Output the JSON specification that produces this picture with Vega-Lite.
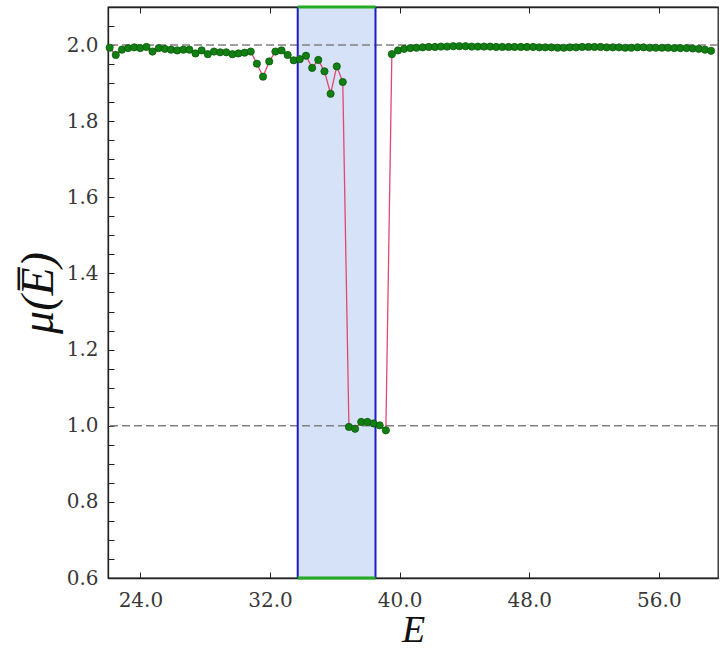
{
  "$schema": "https://vega.github.io/schema/vega-lite/v6.json",
  "width": 610,
  "height": 571,
  "autosize": {"type": "none"},
  "padding": {"left": 108, "top": 7, "right": 2, "bottom": 74},
  "background": "white",
  "config": {
    "view": {"stroke": "#222222", "strokeWidth": 1.3},
    "font": "DejaVu Serif",
    "axis": {
      "grid": false,
      "domainColor": "#222222",
      "domainWidth": 1.3,
      "tickColor": "#222222",
      "tickWidth": 1,
      "tickSize": -6,
      "labelFont": "DejaVu Serif",
      "labelFontSize": 20,
      "labelFontWeight": "normal",
      "labelColor": "#383838",
      "titleFont": "Liberation Serif",
      "titleFontStyle": "italic",
      "titleFontWeight": "normal",
      "titleFontSize": 38,
      "titleColor": "#111111"
    }
  },
  "datasets": {
    "band": [{"Elo": 33.71, "Ehi": 38.51}],
    "refs": [{"level": 2.0}, {"level": 1.0}],
    "mu": [
      {"E": 22.10, "mu": 1.993}, {"E": 22.48, "mu": 1.974}, {"E": 22.86, "mu": 1.988}, {"E": 23.24, "mu": 1.992},
      {"E": 23.62, "mu": 1.994}, {"E": 23.99, "mu": 1.992}, {"E": 24.37, "mu": 1.995}, {"E": 24.75, "mu": 1.983},
      {"E": 25.13, "mu": 1.992}, {"E": 25.51, "mu": 1.990}, {"E": 25.89, "mu": 1.988}, {"E": 26.27, "mu": 1.986},
      {"E": 26.65, "mu": 1.988}, {"E": 27.02, "mu": 1.988}, {"E": 27.40, "mu": 1.978}, {"E": 27.78, "mu": 1.986},
      {"E": 28.16, "mu": 1.976}, {"E": 28.54, "mu": 1.983}, {"E": 28.92, "mu": 1.981}, {"E": 29.30, "mu": 1.981},
      {"E": 29.68, "mu": 1.976}, {"E": 30.05, "mu": 1.978}, {"E": 30.43, "mu": 1.980}, {"E": 30.81, "mu": 1.983},
      {"E": 31.19, "mu": 1.951}, {"E": 31.57, "mu": 1.917}, {"E": 31.95, "mu": 1.957}, {"E": 32.33, "mu": 1.983},
      {"E": 32.71, "mu": 1.986}, {"E": 33.09, "mu": 1.974}, {"E": 33.46, "mu": 1.960}, {"E": 33.84, "mu": 1.963},
      {"E": 34.22, "mu": 1.972}, {"E": 34.60, "mu": 1.940}, {"E": 34.98, "mu": 1.961}, {"E": 35.36, "mu": 1.931},
      {"E": 35.74, "mu": 1.872}, {"E": 36.12, "mu": 1.944}, {"E": 36.49, "mu": 1.903}, {"E": 36.87, "mu": 0.997},
      {"E": 37.25, "mu": 0.992}, {"E": 37.63, "mu": 1.010}, {"E": 38.01, "mu": 1.010}, {"E": 38.39, "mu": 1.006},
      {"E": 38.77, "mu": 1.001}, {"E": 39.15, "mu": 0.988}, {"E": 39.52, "mu": 1.976}, {"E": 39.90, "mu": 1.986},
      {"E": 40.28, "mu": 1.990}, {"E": 40.66, "mu": 1.992}, {"E": 41.04, "mu": 1.993}, {"E": 41.42, "mu": 1.994},
      {"E": 41.80, "mu": 1.995}, {"E": 42.18, "mu": 1.995}, {"E": 42.55, "mu": 1.996}, {"E": 42.93, "mu": 1.996},
      {"E": 43.31, "mu": 1.997}, {"E": 43.69, "mu": 1.997}, {"E": 44.07, "mu": 1.997}, {"E": 44.45, "mu": 1.996},
      {"E": 44.83, "mu": 1.996}, {"E": 45.21, "mu": 1.996}, {"E": 45.59, "mu": 1.996}, {"E": 45.96, "mu": 1.995},
      {"E": 46.34, "mu": 1.995}, {"E": 46.72, "mu": 1.995}, {"E": 47.10, "mu": 1.995}, {"E": 47.48, "mu": 1.995},
      {"E": 47.86, "mu": 1.995}, {"E": 48.24, "mu": 1.995}, {"E": 48.62, "mu": 1.994}, {"E": 48.99, "mu": 1.994},
      {"E": 49.37, "mu": 1.994}, {"E": 49.75, "mu": 1.993}, {"E": 50.13, "mu": 1.993}, {"E": 50.51, "mu": 1.994},
      {"E": 50.89, "mu": 1.994}, {"E": 51.27, "mu": 1.995}, {"E": 51.65, "mu": 1.995}, {"E": 52.03, "mu": 1.995},
      {"E": 52.40, "mu": 1.995}, {"E": 52.78, "mu": 1.994}, {"E": 53.16, "mu": 1.994}, {"E": 53.54, "mu": 1.994},
      {"E": 53.92, "mu": 1.993}, {"E": 54.30, "mu": 1.993}, {"E": 54.68, "mu": 1.994}, {"E": 55.06, "mu": 1.994},
      {"E": 55.43, "mu": 1.993}, {"E": 55.81, "mu": 1.993}, {"E": 56.19, "mu": 1.993}, {"E": 56.57, "mu": 1.993},
      {"E": 56.95, "mu": 1.992}, {"E": 57.33, "mu": 1.992}, {"E": 57.71, "mu": 1.992}, {"E": 58.09, "mu": 1.991},
      {"E": 58.46, "mu": 1.990}, {"E": 58.84, "mu": 1.988}, {"E": 59.22, "mu": 1.985}
    ]
  },
  "resolve": {"axis": {"x": "independent", "y": "independent"}},
  "layer": [
    {
      "data": {"name": "band"},
      "mark": {"type": "rect", "color": "#d6e2f8", "opacity": 1},
      "encoding": {
        "x": {
          "field": "Elo", "type": "quantitative",
          "scale": {"domain": [22, 59.65], "nice": false, "zero": false},
          "axis": {"orient": "bottom", "values": [24, 32, 40, 48, 56], "format": ".1f", "labelPadding": 18, "title": "E", "titlePadding": 1}
        },
        "x2": {"field": "Ehi"},
        "y": {
          "datum": 0.6, "type": "quantitative",
          "scale": {"domain": [0.6, 2.1], "nice": false, "zero": false},
          "axis": {
            "orient": "left",
            "values": [0.6, 0.65, 0.7, 0.75, 0.8, 0.85, 0.9, 0.95, 1.0, 1.05, 1.1, 1.15, 1.2, 1.25, 1.3, 1.35, 1.4, 1.45, 1.5, 1.55, 1.6, 1.65, 1.7, 1.75, 1.8, 1.85, 1.9, 1.95, 2.0, 2.05],
            "labelExpr": "abs(datum.value*5 - round(datum.value*5)) < 0.001 ? format(datum.value, '.1f') : ''",
            "labelPadding": 16,
            "title": "μ(E̅)",
            "titleFontSize": 46,
            "titlePadding": 4
          }
        },
        "y2": {"datum": 2.1}
      }
    },
    {
      "data": {"name": "refs"},
      "mark": {"type": "rule", "color": "#808080", "strokeDash": [8, 4], "strokeWidth": 1.5},
      "encoding": {"y": {"field": "level", "type": "quantitative", "axis": null}}
    },
    {
      "data": {"name": "band"},
      "mark": {"type": "rule", "color": "#1c1cc8", "strokeWidth": 2},
      "encoding": {"x": {"field": "Elo", "type": "quantitative", "axis": null}}
    },
    {
      "data": {"name": "band"},
      "mark": {"type": "rule", "color": "#1c1cc8", "strokeWidth": 2},
      "encoding": {"x": {"field": "Ehi", "type": "quantitative", "axis": null}}
    },
    {
      "data": {"name": "band"},
      "mark": {"type": "rule", "color": "#22aa22", "strokeWidth": 3},
      "encoding": {
        "x": {"field": "Elo", "type": "quantitative", "axis": {"orient": "top", "values": [24, 32, 40, 48, 56], "labels": false, "title": null}},
        "x2": {"field": "Ehi"},
        "y": {"datum": 2.1, "type": "quantitative", "axis": null}
      }
    },
    {
      "data": {"name": "band"},
      "mark": {"type": "rule", "color": "#22aa22", "strokeWidth": 3},
      "encoding": {
        "x": {"field": "Elo", "type": "quantitative", "axis": null},
        "x2": {"field": "Ehi"},
        "y": {"datum": 0.6, "type": "quantitative", "axis": null}
      }
    },
    {
      "data": {"name": "mu"},
      "mark": {"type": "line", "color": "#e2476f", "strokeWidth": 1.3},
      "encoding": {
        "x": {"field": "E", "type": "quantitative", "axis": null},
        "y": {"field": "mu", "type": "quantitative", "axis": null}
      }
    },
    {
      "data": {"name": "mu"},
      "mark": {"type": "circle", "size": 52, "fill": "#117f11", "stroke": "#0a5a0a", "strokeWidth": 0.8, "opacity": 1},
      "encoding": {
        "x": {"field": "E", "type": "quantitative", "axis": null},
        "y": {"field": "mu", "type": "quantitative", "axis": null}
      }
    }
  ]
}
